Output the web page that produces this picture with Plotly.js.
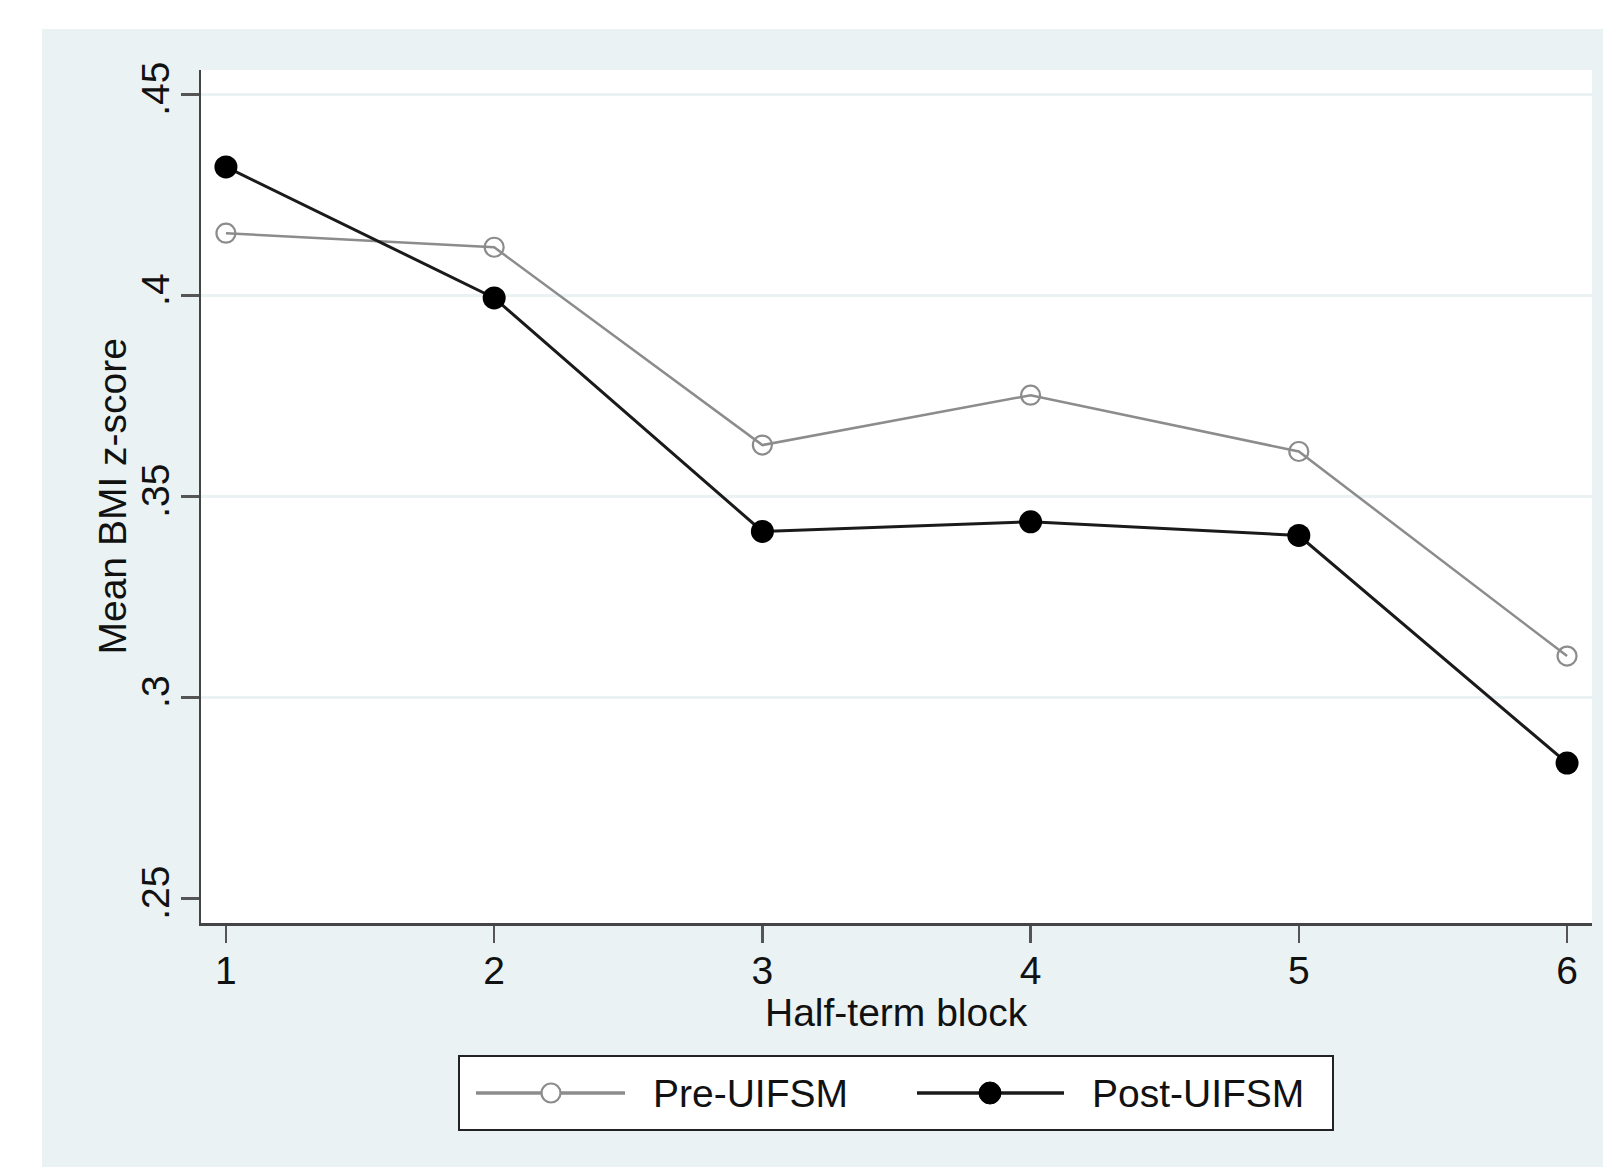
<!DOCTYPE html>
<html>
<head>
<meta charset="utf-8">
<script src="https://cdn.plot.ly/plotly-3.0.1.min.js"></script>
<style>html,body{margin:0;padding:0;background:#fff;}#chart{width:1603px;height:1167px;}</style>
</head>
<body>
<div id="chart"></div>
<script>
// ---- data ----
const blocks = [1, 2, 3, 4, 5, 6];
const preUIFSM = [0.4155, 0.4120, 0.3628, 0.3752, 0.3612, 0.3103];
const postUIFSM = [0.4320, 0.3994, 0.3413, 0.3437, 0.3403, 0.2837];
const yTickVals = [0.25, 0.3, 0.35, 0.4, 0.45];
const yTickText = ['.25', '.3', '.35', '.4', '.45'];
const xTickText = ['1', '2', '3', '4', '5', '6'];
const gridVals = [0.3, 0.35, 0.4, 0.45];
const seriesNames = ['Pre-UIFSM', 'Post-UIFSM'];
const xTitle = 'Half-term block';
const yTitle = 'Mean BMI z-score';

// ---- layout geometry (pixels) ----
const W = 1603, H = 1167;
const L = 201, R = 1592, T = 70, B = 923;
const pw = R - L, ph = B - T;
const px = v => (v - L) / pw;
const py = v => (B - v) / ph;

const FONT = 'Liberation Sans, Arial, sans-serif';
const TXT = '#111';
const BG = '#eaf2f3';
const PRE_C = '#8c8c8c';
const POST_C = '#1a1a1a';

const traces = [
  {
    x: blocks, y: preUIFSM, name: seriesNames[0], type: 'scatter', mode: 'lines+markers',
    line: {color: PRE_C, width: 2.5},
    marker: {symbol: 'circle-open', size: 19, color: PRE_C, line: {width: 2.2, color: PRE_C}},
    showlegend: false
  },
  {
    x: blocks, y: postUIFSM, name: seriesNames[1], type: 'scatter', mode: 'lines+markers',
    line: {color: POST_C, width: 3},
    marker: {symbol: 'circle', size: 23, color: '#000'},
    showlegend: false
  }
];

const shapes = [];
// white strips outside the Stata graph region
shapes.push({type: 'rect', xref: 'paper', yref: 'paper', layer: 'below',
  x0: px(0), x1: px(W), y0: py(0), y1: py(29), fillcolor: '#fff', line: {width: 0}});
shapes.push({type: 'rect', xref: 'paper', yref: 'paper', layer: 'below',
  x0: px(0), x1: px(42), y0: py(0), y1: py(H), fillcolor: '#fff', line: {width: 0}});
// gridlines
gridVals.forEach(g => shapes.push({type: 'line', xref: 'paper', yref: 'y', layer: 'below',
  x0: 0, x1: 1, y0: g, y1: g, line: {color: BG, width: 3}}));

// custom legend
const legY = 1093;
shapes.push({type: 'rect', xref: 'paper', yref: 'paper',
  x0: px(459), x1: px(1333), y0: py(1130), y1: py(1056), fillcolor: '#fff', line: {color: '#222', width: 2}});
const legItems = [
  {x0: 476, x1: 625, mx: 551, tx: 651, color: PRE_C, open: true, d: 19},
  {x0: 917, x1: 1064, mx: 990, tx: 1090, color: POST_C, open: false, d: 22}
];
const annotations = [];
legItems.forEach((it, i) => {
  shapes.push({type: 'line', xref: 'paper', yref: 'paper', x0: px(it.x0), x1: px(it.x1), y0: py(legY), y1: py(legY),
    line: {color: it.color, width: 3.5}});
  shapes.push({type: 'circle', xref: 'paper', yref: 'paper', xsizemode: 'pixel', ysizemode: 'pixel',
    xanchor: px(it.mx), yanchor: py(legY), x0: -it.d / 2, x1: it.d / 2, y0: -it.d / 2, y1: it.d / 2,
    fillcolor: it.open ? '#fff' : '#000', line: {color: it.open ? PRE_C : '#000', width: it.open ? 2.2 : 1}});
  annotations.push({xref: 'paper', yref: 'paper', x: px(it.tx), y: py(legY), xanchor: 'left', yanchor: 'middle',
    text: seriesNames[i], showarrow: false, font: {family: FONT, size: 39, color: TXT}});
});
// axis titles as annotations for exact placement
annotations.push({xref: 'paper', yref: 'paper', x: px(112), y: 0.5, xanchor: 'center', yanchor: 'middle',
  text: yTitle, textangle: -90, showarrow: false, font: {family: FONT, size: 39, color: TXT}});
annotations.push({xref: 'paper', yref: 'paper', x: 0.5, y: py(1012), xanchor: 'center', yanchor: 'middle',
  text: xTitle, showarrow: false, font: {family: FONT, size: 39, color: TXT}});

const layout = {
  width: W, height: H,
  margin: {l: L, r: W - R, t: T, b: H - B, pad: 0},
  paper_bgcolor: BG,
  plot_bgcolor: '#fff',
  font: {family: FONT, size: 39, color: TXT},
  showlegend: false,
  xaxis: {
    range: [0.907, 6.093], tickvals: blocks, ticktext: xTickText,
    showgrid: false, zeroline: false, showline: true, linecolor: '#444', linewidth: 2.5,
    ticks: 'outside', ticklen: 17, tickwidth: 2.5, tickcolor: '#555', ticklabelstandoff: -5,
    tickfont: {family: FONT, size: 39, color: TXT},
    automargin: false
  },
  yaxis: {
    range: [0.2439, 0.4561], tickvals: yTickVals, ticktext: yTickText, tickangle: -90,
    showgrid: false, zeroline: false, showline: true, linecolor: '#444', linewidth: 2.5,
    ticks: 'outside', ticklen: 18, tickwidth: 2.5, tickcolor: '#555', ticklabelstandoff: -4,
    tickfont: {family: FONT, size: 39, color: TXT},
    automargin: false
  },
  shapes: shapes,
  annotations: annotations
};

Plotly.newPlot('chart', traces, layout, {displayModeBar: false, staticPlot: true});
</script>
</body>
</html>
